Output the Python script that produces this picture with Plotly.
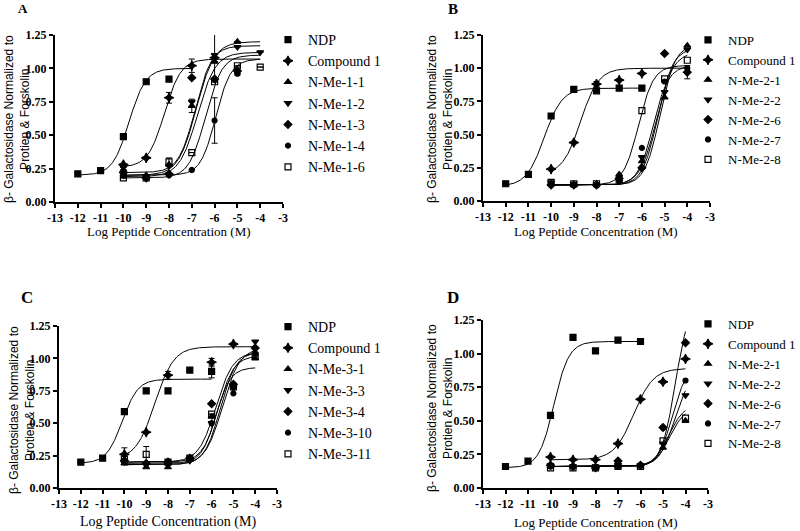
import numpy as np
import plotly.graph_objects as go

# ---------------- data ----------------
x_dose = [-12, -11, -10, -9, -8, -7, -6, -5, -4]
x_ticks = [-13, -12, -11, -10, -9, -8, -7, -6, -5, -4, -3]
y_ticks = [0.0, 0.25, 0.5, 0.75, 1.0, 1.25]

# Panel A
A_names = ["NDP", "Compound 1", "N-Me-1-1", "N-Me-1-2", "N-Me-1-3", "N-Me-1-4", "N-Me-1-6"]
A_NDP = [0.21, 0.235, 0.49, 0.90, 0.92, None, None, None, None]
A_C1 = [None, None, 0.28, 0.33, 0.78, 1.02, 1.08, None, None]
A_N11 = [None, None, 0.24, 0.20, 0.28, 0.72, 1.05, 1.20, None]
A_N12 = [None, None, 0.26, 0.19, 0.27, 0.75, 1.10, 1.16, 1.12]
A_N13 = [None, None, 0.22, 0.18, 0.21, 0.93, 0.92, 0.98, None]
A_N14 = [None, None, 0.20, 0.19, 0.20, 0.24, 0.61, 0.96, None]
A_N16 = [None, None, 0.18, 0.18, 0.30, 0.37, 0.90, 1.02, 1.01]
A_err_C1 = [None, None, None, None, 0.04, 0.05, None, None, None]
A_err_N11 = [None, None, None, None, None, 0.05, None, None, None]
A_err_N12 = [None, None, None, None, None, None, 0.17, None, None]
A_err_N13 = [None, None, None, None, None, None, None, 0.03, None]
A_err_N14 = [None, None, None, None, None, None, 0.17, None, None]
A_err_N16 = [None, None, None, None, 0.03, None, None, None, None]
# fitted sigmoid parameters (bottom, top, logEC50, hill, fitted range)
A_bottom = [0.20, 0.26, 0.20, 0.22, 0.19, 0.20, 0.18]
A_top = [1.00, 1.07, 1.20, 1.17, 1.12, 1.07, 1.10]
A_logec50 = [-9.75, -8.2, -6.8, -6.85, -6.75, -5.95, -6.4]
A_hill = [1.2, 1.2, 1.1, 1.2, 1.1, 1.3, 1.2]
A_xmin = [-12, -10, -10, -10, -10, -10, -10]
A_xmax = [-7, -4, -4, -4, -4, -4, -4]

# Panel B
B_names = ["NDP", "Compound 1", "N-Me-2-1", "N-Me-2-2", "N-Me-2-6", "N-Me-2-7", "N-Me-2-8"]
B_NDP = [0.13, 0.20, 0.64, 0.84, 0.83, 0.85, 0.85, None, None]
B_C1 = [None, None, 0.24, 0.44, 0.88, 0.91, 0.96, None, None]
B_N21 = [None, None, 0.13, 0.12, 0.13, 0.20, 0.30, 0.78, 1.17]
B_N22 = [None, None, 0.14, 0.13, 0.12, 0.15, 0.33, 0.82, 1.14]
B_N26 = [None, None, 0.12, 0.12, 0.12, 0.17, 0.25, 1.11, 0.97]
B_N27 = [None, None, 0.12, 0.12, 0.12, 0.16, 0.40, 0.90, 1.00]
B_N28 = [None, None, 0.14, 0.13, 0.13, 0.16, 0.68, 0.92, 1.06]
B_err_C1 = [None, None, None, None, 0.02, None, None, None, None]
B_err_N26 = [None, None, None, None, None, None, None, None, 0.05]
B_bottom = [0.11, 0.20, 0.12, 0.12, 0.12, 0.12, 0.12]
B_top = [0.85, 1.00, 1.15, 1.12, 1.18, 1.02, 1.02]
B_logec50 = [-10.3, -8.7, -5.3, -5.35, -5.2, -5.5, -6.15]
B_hill = [1.1, 1.1, 1.3, 1.2, 1.3, 1.3, 1.3]
B_xmin = [-12, -10, -10, -10, -10, -10, -10]
B_xmax = [-6, -4, -4, -4, -4, -4, -4]

# Panel C
C_names = ["NDP", "Compound 1", "N-Me-3-1", "N-Me-3-3", "N-Me-3-4", "N-Me-3-10", "N-Me-3-11"]
C_NDP = [0.20, 0.23, 0.59, 0.75, 0.75, 0.91, 0.90, None, None]
C_C1 = [None, None, 0.26, 0.43, 0.87, None, 0.97, 1.11, None]
C_N31 = [None, None, 0.19, 0.16, 0.16, 0.22, 0.55, 0.80, 1.00]
C_N33 = [None, None, 0.20, 0.18, 0.18, 0.21, 0.50, 0.77, 1.13]
C_N34 = [None, None, 0.21, 0.19, 0.20, 0.23, 0.65, 0.80, 1.08]
C_N310 = [None, None, 0.20, 0.19, 0.19, 0.22, 0.50, 0.73, 1.04]
C_N311 = [None, None, 0.22, 0.26, 0.20, 0.23, 0.57, 0.78, 1.02]
C_err_NDP = [None, None, None, None, None, None, 0.05, None, None]
C_err_C1 = [None, None, 0.05, None, 0.03, None, 0.03, None, None]
C_err_N311 = [None, None, None, 0.06, None, None, None, None, None]
C_bottom = [0.19, 0.22, 0.18, 0.18, 0.20, 0.19, 0.20]
C_top = [0.84, 1.09, 1.05, 1.08, 1.05, 0.93, 1.02]
C_logec50 = [-10.1, -8.6, -5.6, -5.5, -5.8, -5.8, -5.7]
C_hill = [1.2, 1.0, 1.2, 1.1, 1.1, 1.3, 1.2]
C_xmin = [-12, -10, -10, -10, -10, -10, -10]
C_xmax = [-6, -4, -4, -4, -4, -4, -4]

# Panel D
D_names = ["NDP", "Compound 1", "N-Me-2-1", "N-Me-2-2", "N-Me-2-6", "N-Me-2-7", "N-Me-2-8"]
D_NDP = [0.16, 0.20, 0.54, 1.12, 1.02, 1.10, 1.09, None, None]
D_C1 = [None, None, 0.23, 0.21, 0.21, 0.33, 0.66, 0.79, 0.96]
D_N21 = [None, None, 0.16, 0.16, 0.15, 0.16, 0.16, 0.30, 0.50]
D_N22 = [None, None, 0.17, 0.16, 0.16, 0.17, 0.17, 0.33, 0.69]
D_N26 = [None, None, 0.17, 0.16, 0.15, 0.20, 0.17, 0.45, 1.08]
D_N27 = [None, None, 0.16, 0.16, 0.15, 0.16, 0.17, 0.45, 0.80]
D_N28 = [None, None, 0.15, 0.15, 0.15, 0.16, 0.16, 0.35, 0.52]
D_bottom = [0.15, 0.21, 0.16, 0.16, 0.16, 0.16, 0.16]
D_top = [1.09, 0.89, 0.60, 0.85, 1.40, 0.90, 0.62]
D_logec50 = [-9.85, -6.3, -4.7, -4.5, -4.45, -4.6, -4.75]
D_hill = [1.3, 1.0, 1.3, 1.3, 1.4, 1.4, 1.3]
D_xmin = [-12, -10, -10, -10, -10, -10, -10]
D_xmax = [-6, -4, -4, -4, -4, -4, -4]

# ---------------- styling ----------------
symbols = ["square", "star-diamond", "triangle-up", "triangle-down", "diamond", "circle", "square-open"]
sizes = [6, 7, 6, 6, 6, 5, 6]
SERIF = "Liberation Serif, Times New Roman, serif"
SANS = "Liberation Sans, Arial, sans-serif"

panels = [
    dict(key="A", names=A_names, ys=[A_NDP, A_C1, A_N11, A_N12, A_N13, A_N14, A_N16],
         errs=[None, A_err_C1, A_err_N11, A_err_N12, A_err_N13, A_err_N14, A_err_N16],
         fit=(A_bottom, A_top, A_logec50, A_hill, A_xmin, A_xmax),
         xd=[55 / 800, 283 / 800], yd=[1 - 202 / 531, 1 - 35 / 531], leg="legend"),
    dict(key="B", names=B_names, ys=[B_NDP, B_C1, B_N21, B_N22, B_N26, B_N27, B_N28],
         errs=[None, B_err_C1, None, None, B_err_N26, None, None],
         fit=(B_bottom, B_top, B_logec50, B_hill, B_xmin, B_xmax),
         xd=[483 / 800, 710 / 800], yd=[1 - 201 / 531, 1 - 35 / 531], leg="legend2"),
    dict(key="C", names=C_names, ys=[C_NDP, C_C1, C_N31, C_N33, C_N34, C_N310, C_N311],
         errs=[C_err_NDP, C_err_C1, None, None, None, None, C_err_N311],
         fit=(C_bottom, C_top, C_logec50, C_hill, C_xmin, C_xmax),
         xd=[59 / 800, 277 / 800], yd=[1 - 488 / 531, 1 - 326 / 531], leg="legend3"),
    dict(key="D", names=D_names, ys=[D_NDP, D_C1, D_N21, D_N22, D_N26, D_N27, D_N28],
         errs=[None] * 7,
         fit=(D_bottom, D_top, D_logec50, D_hill, D_xmin, D_xmax),
         xd=[483 / 800, 708 / 800], yd=[1 - 488 / 531, 1 - 320 / 531], leg="legend4"),
]

fig = go.Figure()
layout = {}
for i, p in enumerate(panels):
    n = "" if i == 0 else str(i + 1)
    xa, ya = "x" + n, "y" + n
    bottom, top, ec50, hill, xmin, xmax = p["fit"]
    # fitted curves
    for j in range(7):
        xs = np.linspace(xmin[j], xmax[j], 200)
        ys = bottom[j] + (top[j] - bottom[j]) / (1 + 10 ** (hill[j] * (ec50[j] - xs)))
        fig.add_trace(go.Scatter(x=xs, y=ys, mode="lines", xaxis=xa, yaxis=ya,
                                 line=dict(color="black", width=1), showlegend=False,
                                 hoverinfo="skip"))
    # data points
    for j in range(7):
        err = p["errs"][j]
        tr = dict(x=x_dose, y=p["ys"][j], mode="markers", name=p["names"][j],
                  xaxis=xa, yaxis=ya, legend=p["leg"],
                  marker=dict(symbol=symbols[j], size=sizes[j], color="black",
                              line=dict(color="black", width=1.2)))
        if err is not None:
            tr["error_y"] = dict(type="data", array=err, visible=True, color="black",
                                 thickness=1, width=3)
        fig.add_trace(go.Scatter(**tr))
    axis_common = dict(showline=True, linecolor="black", linewidth=2, ticks="outside",
                       ticklen=4, tickwidth=1.5, tickcolor="black", showgrid=False,
                       zeroline=False, mirror=False, tickangle=0, automargin=False,
                       tickfont=dict(family=SERIF, size=12, color="black", weight="bold"))
    layout["xaxis" + n] = dict(axis_common, domain=p["xd"], range=[-13, -3],
                               tickvals=x_ticks, ticktext=[str(v) for v in x_ticks], anchor=ya)
    layout["yaxis" + n] = dict(axis_common, domain=p["yd"], range=[0, 1.25],
                               tickvals=y_ticks, tickformat=".2f", anchor=xa)

legend_common = dict(bgcolor="rgba(0,0,0,0)",
                     itemwidth=30, tracegroupgap=0, xanchor="left", yanchor="top",
                     itemclick=False, itemdoubleclick=False)
layout["legend"] = dict(legend_common, x=268 / 800, y=1 - 24 / 531,
                        font=dict(family=SERIF, size=14, color="black"))
layout["legend2"] = dict(legend_common, x=688 / 800, y=1 - 25 / 531,
                         font=dict(family=SERIF, size=13, color="black"))
layout["legend3"] = dict(legend_common, x=268 / 800, y=1 - 311 / 531,
                         font=dict(family=SERIF, size=14, color="black"))
layout["legend4"] = dict(legend_common, x=688 / 800, y=1 - 309 / 531,
                         font=dict(family=SERIF, size=13, color="black"))

ann = []
ytitle = "β- Galactosidase Normalized to<br>Protien & Forskolin"
for (x, y) in [(17, 119), (440, 119), (22, 410), (440, 408)]:
    ann.append(dict(text=ytitle, x=x / 800, y=1 - y / 531, xref="paper", yref="paper",
                    xanchor="center", yanchor="middle",
                    showarrow=False, textangle=-90, align="center",
                    font=dict(family=SANS, size=12, color="black")))
xtitle = "Log Peptide Concentration (M)"
for (x, y, s) in [(169, 231, 13), (596, 231, 13), (168, 522, 14), (596, 522, 13)]:
    ann.append(dict(text=xtitle, x=x / 800, y=1 - y / 531, xref="paper", yref="paper",
                    xanchor="center", yanchor="middle",
                    showarrow=False, font=dict(family=SERIF, size=s, color="black")))
for (t, x, y, s) in [("A", 23, 9, 13), ("B", 453, 9, 15), ("C", 27, 297, 17), ("D", 453, 297, 17)]:
    ann.append(dict(text=t, x=x / 800, y=1 - y / 531, xref="paper", yref="paper",
                    xanchor="center", yanchor="middle",
                    showarrow=False, font=dict(family=SERIF, size=s, color="black", weight="bold")))

fig.update_layout(width=800, height=531, margin=dict(l=0, r=0, t=0, b=0, autoexpand=False),
                  font=dict(family=SERIF, color="black"), hovermode=False,
                  paper_bgcolor="white", plot_bgcolor="white", annotations=ann, **layout)
fig.write_html("out.html", config={"displayModeBar": False},
               post_script="document.body.style.margin='0px';document.body.style.overflow='hidden';")
